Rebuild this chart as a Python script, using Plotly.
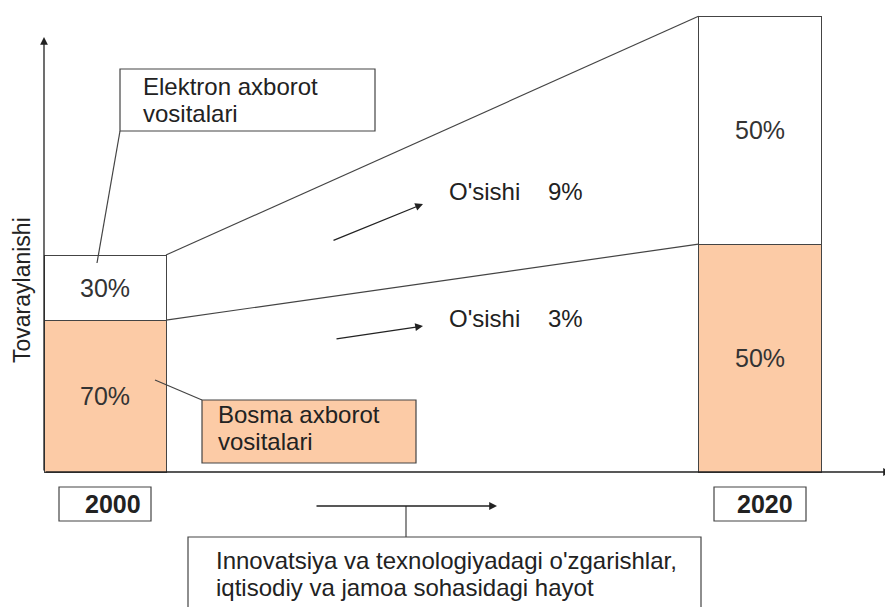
import plotly.graph_objs as go

# data
YEARS = ["2000", "2020"]
TOTAL_VOLUME = [100, 210]          # relative volume of all media
PRINT_SHARE = [70, 50]             # Bosma axborot vositalari, %
ELECTRONIC_SHARE = [30, 50]        # Elektron axborot vositalari, %
GROWTH_ELECTRONIC = 9              # O'sishi, %
GROWTH_PRINT = 3

# layout helpers (pixel positions of the page)
W, H = 893, 607
PAD = 8                            # default body margin of the html page
BASE_PY = 472                      # baseline of the bars in pixels
S = 2.17                           # pixels per volume unit
BAR_X = [105, 760]
BAR_W = [122, 123]

FONT = "Arial, Liberation Sans, sans-serif"
INK = "#222222"
LINE = "#444444"
ORANGE = "#FCCBA6"


def Y(py):
	return (BASE_PY - py) / S


print_vals = [t * p / 100 for t, p in zip(TOTAL_VOLUME, PRINT_SHARE)]
elec_vals = [t * e / 100 for t, e in zip(TOTAL_VOLUME, ELECTRONIC_SHARE)]

fig = go.Figure()

fig.add_trace(go.Bar(
	x = BAR_X, y = print_vals, width = BAR_W,
	marker = dict(color = ORANGE, line = dict(color = LINE, width = 1)),
	text = [f"{v}%" for v in PRINT_SHARE],
	textposition = "inside", insidetextanchor = "middle", textangle = 0,
	constraintext = "none",
	textfont = dict(family = FONT, size = 25, color = "#333333"),
	hoverinfo = "skip", showlegend = False,
))
fig.add_trace(go.Bar(
	x = BAR_X, y = elec_vals, width = BAR_W,
	marker = dict(color = "white", line = dict(color = LINE, width = 1)),
	text = [f"{v}%" for v in ELECTRONIC_SHARE],
	textposition = "inside", insidetextanchor = "middle", textangle = 0,
	constraintext = "none",
	textfont = dict(family = FONT, size = 25, color = "#333333"),
	hoverinfo = "skip", showlegend = False,
))

# connecting lines between the bars
x_from = BAR_X[0] + BAR_W[0] / 2
x_to = BAR_X[1] - BAR_W[1] / 2
for level in (print_vals, [p + e for p, e in zip(print_vals, elec_vals)]):
	fig.add_trace(go.Scatter(
		x = [x_from, x_to], y = level, mode = "lines",
		line = dict(color = LINE, width = 1.2), hoverinfo = "skip", showlegend = False,
	))

shapes = []
annotations = []


def rect(x0, y0, x1, y1, fill = "white"):
	shapes.append(dict(type = "rect", xref = "x", yref = "y", x0 = x0, x1 = x1, y0 = Y(y0), y1 = Y(y1),
					   line = dict(color = LINE, width = 1.2), fillcolor = fill, layer = "above"))


def seg(x0, y0, x1, y1):
	shapes.append(dict(type = "line", xref = "x", yref = "y", x0 = x0, x1 = x1, y0 = Y(y0), y1 = Y(y1),
					   line = dict(color = LINE, width = 1.2), layer = "above"))


def label(x, py, txt, anchor = "left", size = 24, bold = False):
	annotations.append(dict(x = x, y = Y(py), xref = "x", yref = "y", text = f"<b>{txt}</b>" if bold else txt,
							showarrow = False, xanchor = anchor, yanchor = "middle",
							font = dict(family = FONT, size = size, color = INK)))


def arrow(x0, y0, x1, y1):
	annotations.append(dict(x = x1, y = Y(y1), ax = x0, ay = Y(y0), xref = "x", yref = "y",
							axref = "x", ayref = "y", text = "", showarrow = True,
							arrowhead = 2, arrowsize = 1.2, arrowwidth = 1.3, arrowcolor = INK))


# axes drawn as arrows
arrow(44, BASE_PY, 44, 37)
arrow(44, BASE_PY, 891, BASE_PY)

# Elektron axborot vositalari callout
seg(120, 131, 97, 263)
rect(120, 69, 375, 131)
label(141, 86, "Elektron axborot")
label(141, 113, "vositalari")

# Bosma axborot vositalari callout
seg(202, 400, 155, 380)
rect(202, 400, 416, 463, fill = ORANGE)
label(216, 414, "Bosma axborot")
label(216, 441, "vositalari")

# growth arrows and labels
arrow(332, 241, 423, 204)
arrow(335, 339, 423, 326)
label(447, 191, "O'sishi")
label(546, 191, f"{GROWTH_ELECTRONIC}%")
label(447, 318, "O'sishi")
label(546, 318, f"{GROWTH_PRINT}%")

# year boxes
rect(59, 487, 151, 521)
label(113, 504, YEARS[0], anchor = "center", size = 25, bold = True)
rect(714, 487, 806, 521)
label(765, 504, YEARS[1], anchor = "center", size = 25, bold = True)

# bottom driver box
arrow(315, 506, 497, 506)
seg(406, 506, 406, 537)
rect(188, 537, 701, 640)
label(214, 560, "Innovatsiya va texnologiyadagi o'zgarishlar,")
label(214, 587, "iqtisodiy va jamoa sohasidagi hayot")

# y axis title
annotations.append(dict(x = 22, y = Y(290), xref = "x", yref = "y", text = "Tovaraylanishi", textangle = -90,
						showarrow = False, xanchor = "center", yanchor = "middle",
						font = dict(family = FONT, size = 23, color = INK)))

fig.update_layout(
	width = W - PAD, height = H - PAD,
	margin = dict(l = 0, r = 0, t = 0, b = 0),
	barmode = "stack",
	plot_bgcolor = "white", paper_bgcolor = "white",
	xaxis = dict(range = [PAD, W], visible = False, fixedrange = True),
	yaxis = dict(range = [Y(H), Y(PAD)], visible = False, fixedrange = True),
	shapes = shapes, annotations = annotations,
	showlegend = False,
)

fig.write_html("out.html")
